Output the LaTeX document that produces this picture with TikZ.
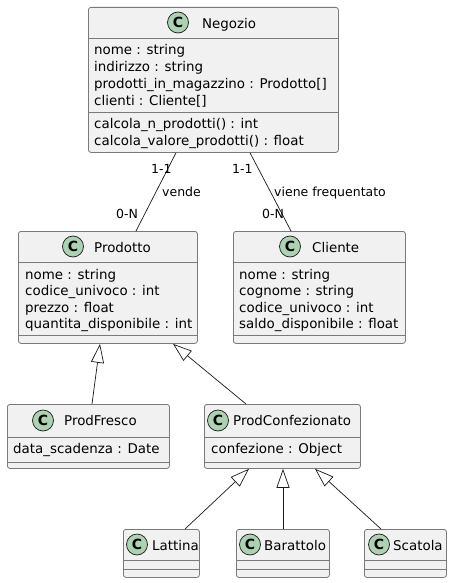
\documentclass[tikz,border=0pt]{standalone}
\usepackage{fontspec}
\setmainfont{DejaVu Sans}
\usetikzlibrary{arrows.meta,calc}
\definecolor{lc}{HTML}{181818}
\definecolor{bc}{HTML}{7A7A7A}
\definecolor{boxfill}{HTML}{F1F1F1}
\definecolor{spotc}{HTML}{ADD1B2}
\tikzset{
  cls/.style={draw=bc, fill=boxfill, rounded corners=2.5pt, line width=0.8pt, anchor=north west, inner sep=0pt},
  spot/.style={circle, draw=lc, fill=spotc, line width=0.7pt, minimum size=21pt, inner sep=0pt, font=\fontsize{14}{14}\selectfont\bfseries},
  ttl/.style={anchor=base west, inner sep=0pt, font=\fontsize{13.4}{16}\selectfont},
  txt/.style={anchor=base west, inner sep=0pt, font=\fontsize{13.4}{16}\selectfont},
  lbl/.style={anchor=base west, inner sep=0pt, font=\fontsize{12.5}{14}\selectfont},
  sepline/.style={draw=bc, line width=0.8pt},
  ext/.style={draw=lc, line width=0.7pt, -{Triangle[open, length=19pt, width=13pt, line width=0.7pt]}},
  assoc/.style={draw=lc, line width=0.7pt}
}
\begin{document}
\begin{tikzpicture}[x=1pt,y=-1pt]
\useasboundingbox (0,0) rectangle (452,583);
% ---------- Negozio ----------
\node[cls, minimum width=250pt, minimum height=145pt] (negozio) at (88,7) {};
\draw[sepline] (88,38) -- (338,38);
\draw[sepline] (88,112) -- (338,112);
\node[spot] (negozioC) at (178,22.5) {C};
\node[ttl] (negozioT) at (202,28.5) {Negozio};
\node[txt] (n1) at (94,55) {nome : string};
\node[txt] (n2) at (94,71.7) {indirizzo : string};
\node[txt] (n3) at (94,88.4) {prodotti\_in\_magazzino : Prodotto[]};
\node[txt] (n4) at (94,105.1) {clienti : Cliente[]};
\node[txt] (n5) at (94,128.5) {calcola\_n\_prodotti() : int};
\node[txt] (n6) at (94,145.2) {calcola\_valore\_prodotti() : float};
% ---------- Prodotto ----------
\node[cls, minimum width=179pt, minimum height=112pt] (prodotto) at (18,231) {};
\draw[sepline] (18,262) -- (197,262);
\draw[sepline] (18,335) -- (197,335);
\node[spot] (prodottoC) at (73,246.5) {C};
\node[ttl] (prodottoT) at (94,252) {Prodotto};
\node[txt] (p1) at (25,279) {nome : string};
\node[txt] (p2) at (25,295.5) {codice\_univoco : int};
\node[txt] (p3) at (25,312) {prezzo : float};
\node[txt] (p4) at (25,328.5) {quantita\_disponibile : int};
% ---------- Cliente ----------
\node[cls, minimum width=172pt, minimum height=112pt] (cliente) at (233,231) {};
\draw[sepline] (233,262) -- (405,262);
\draw[sepline] (233,335) -- (405,335);
\node[spot] (clienteC) at (290,246.5) {C};
\node[ttl] (clienteT) at (312,252) {Cliente};
\node[txt] (c1) at (239,279) {nome : string};
\node[txt] (c2) at (239,295.5) {cognome : string};
\node[txt] (c3) at (239,312) {codice\_univoco : int};
\node[txt] (c4) at (239,328.5) {saldo\_disponibile : float};
% ---------- ProdFresco ----------
\node[cls, minimum width=162pt, minimum height=64pt] (fresco) at (7,404) {};
\draw[sepline] (7,437) -- (169,437);
\draw[sepline] (7,462) -- (169,462);
\node[spot] (frescoC) at (43,420.5) {C};
\node[ttl] (frescoT) at (64,425.5) {ProdFresco};
\node[txt] (f1) at (13,453) {data\_scadenza : Date};
% ---------- ProdConfezionato ----------
\node[cls, minimum width=156pt, minimum height=64pt] (confez) at (204,404) {};
\draw[sepline] (204,437) -- (360,437);
\draw[sepline] (204,462) -- (360,462);
\node[spot] (confezC) at (218,420.5) {C};
\node[ttl] (confezT) at (233,425.5) {ProdConfezionato};
\node[txt] (cf1) at (211,453) {confezione : Object};
% ---------- Lattina ----------
\node[cls, minimum width=76pt, minimum height=48pt] (lattina) at (123,529) {};
\draw[sepline] (123,560) -- (199,560);
\draw[sepline] (123,569) -- (199,569);
\node[spot] (lattinaC) at (137,544.5) {C};
\node[ttl] (lattinaT) at (152,550) {Lattina};
% ---------- Barattolo ----------
\node[cls, minimum width=93pt, minimum height=48pt] (barattolo) at (236,529) {};
\draw[sepline] (236,560) -- (329,560);
\draw[sepline] (236,569) -- (329,569);
\node[spot] (barattoloC) at (250,544.5) {C};
\node[ttl] (barattoloT) at (264,550) {Barattolo};
% ---------- Scatola ----------
\node[cls, minimum width=82pt, minimum height=48pt] (scatola) at (364,529) {};
\draw[sepline] (364,560) -- (446,560);
\draw[sepline] (364,569) -- (446,569);
\node[spot] (scatolaC) at (379,544.5) {C};
\node[ttl] (scatolaT) at (393,550) {Scatola};
% ---------- associations ----------
\draw[assoc] ($(negozio.south west)+(88,0)$) -- ($(prodotto.north west)+(118,0)$);
\draw[assoc] ($(negozio.south west)+(162,0)$) -- ($(cliente.north west)+(58,0)$);
\node[lbl] (l11a) at (151,173) {1-1};
\node[lbl] (lvende) at (162,196) {vende};
\node[lbl] (l0na) at (116,218) {0-N};
\node[lbl] (l11b) at (232,173) {1-1};
\node[lbl] (lviene) at (274,196) {viene frequentato};
\node[lbl] (l0nb) at (262,218) {0-N};
% ---------- generalizations ----------
\draw[ext] ($(fresco.north west)+(85,0)$) -- ($(prodotto.south west)+(82,0)$);
\draw[ext] ($(confez.north west)+(42,0)$) -- ($(prodotto.south west)+(155,0)$);
\draw[ext] ($(lattina.north west)+(62,0)$) -- ($(confez.south west)+(45,0)$);
\draw[ext] ($(barattolo.north west)+(47,0)$) -- ($(confez.south west)+(79,0)$);
\draw[ext] ($(scatola.north west)+(17,0)$) -- ($(confez.south west)+(111,0)$);
\end{tikzpicture}
\end{document}
